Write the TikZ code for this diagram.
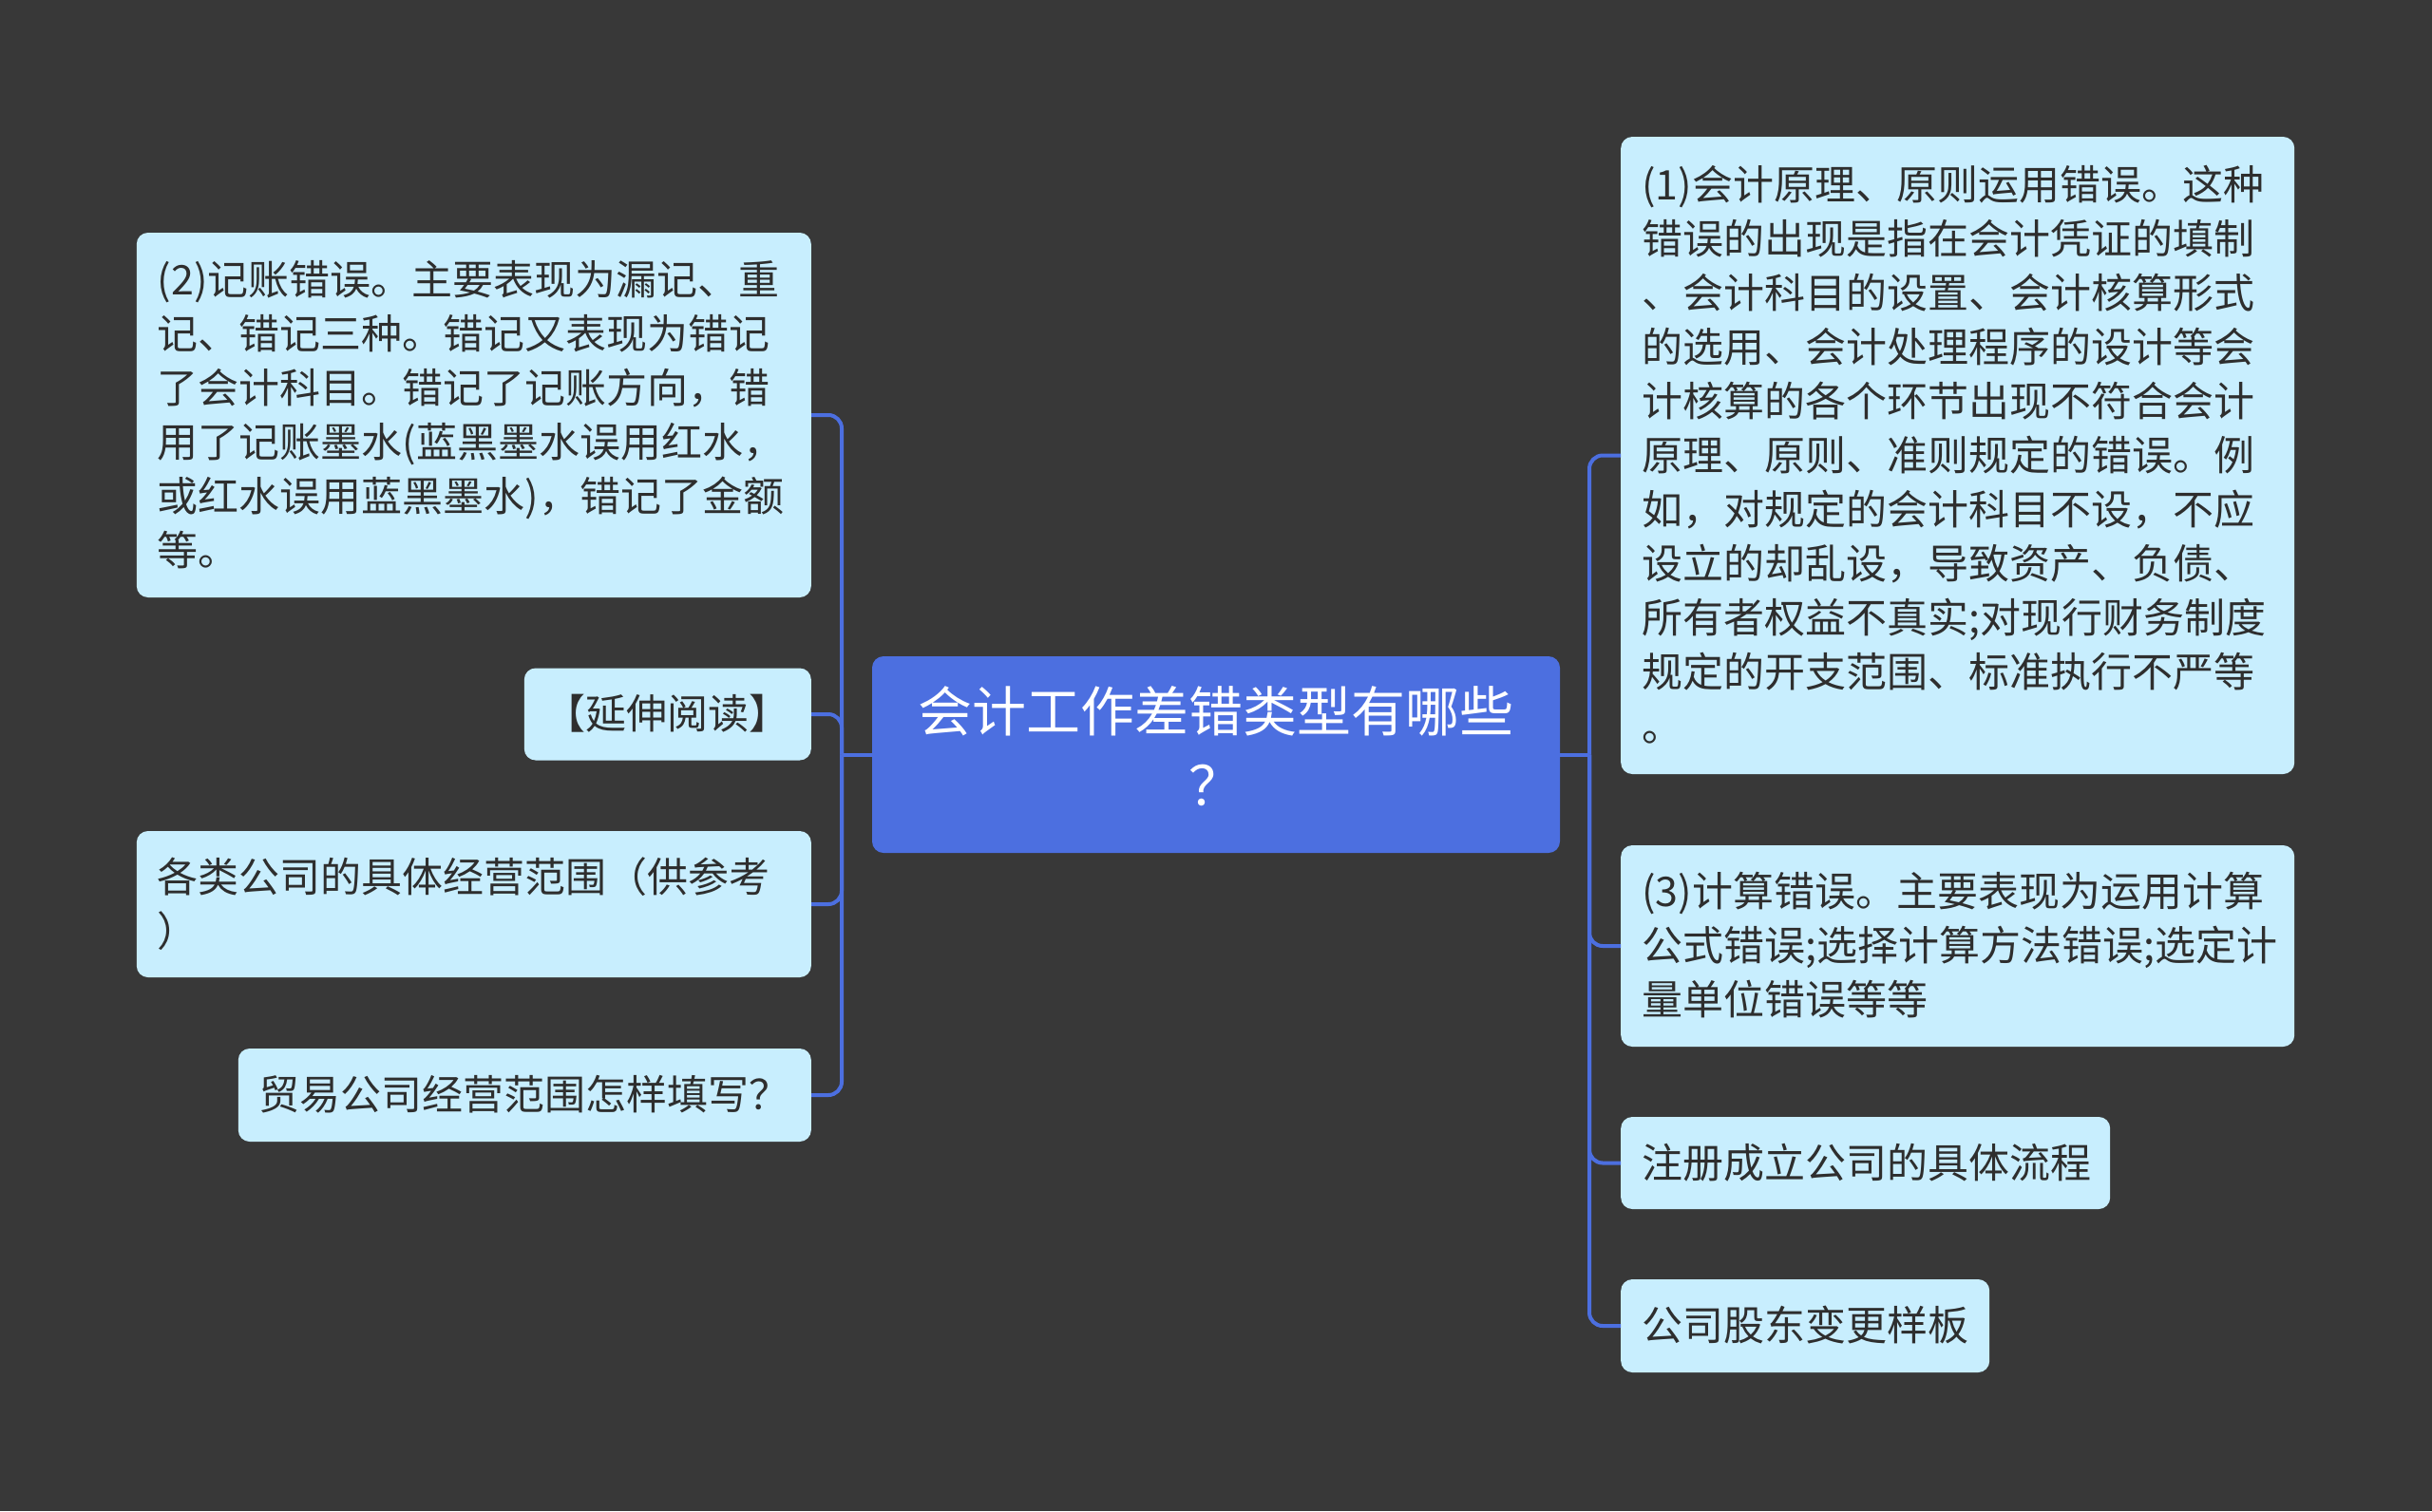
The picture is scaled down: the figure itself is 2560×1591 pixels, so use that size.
\documentclass[tikz,border=0pt]{standalone}
\usepackage{fontspec}
\setmainfont{Noto Sans CJK SC}
\definecolor{bgc}{HTML}{383838}
\definecolor{leafc}{HTML}{C8EEFE}
\definecolor{rootc}{HTML}{4C6FE0}
\definecolor{connc}{HTML}{4C6FE0}
\definecolor{txtc}{HTML}{2E2E2E}
\newcommand\mystrut{\rule[-0.22\baselineskip]{0pt}{\baselineskip}}
\tikzset{
  leaf/.style={fill=leafc, rounded corners=12pt, inner xsep=22pt, inner ysep=0pt,
    align=left, text=txtc, font=\fontsize{43}{57}\selectfont,
    execute at begin node=\mystrut, execute at end node=\mystrut},
  rootnode/.style={fill=rootc, rounded corners=12pt, inner xsep=20pt, inner ysep=0pt,
    align=center, text=white, font=\fontsize{57}{78}\selectfont,
    minimum width=724pt, minimum height=207pt,
    execute at begin node=\mystrut, execute at end node=\mystrut},
  conn/.style={draw=connc, line width=4pt, rounded corners=14pt}
}
\begin{document}
\begin{tikzpicture}[x=1pt,y=-1pt]
\fill[bgc] (0,0) rectangle (2560,1591);
\useasboundingbox (0,0) rectangle (2560,1591);

\node[rootnode] (c) at (1280,794.5) {会计工作差错类型有哪些\\？};

% left
\node[leaf, anchor=east, text width=666pt, minimum height=384pt] (l1) at (854,437)
 {(2)记账错误。主要表现为漏记、重\\记、错记三种。错记又表现为错记\\了会计科目。错记了记账方向，错\\用了记账墨水(蓝黑墨水误用红水，\\或红水误用蓝黑墨水)，错记了金额\\等。};
\node[leaf, anchor=east, text width=258pt, minimum height=97pt] (l2) at (854,752)
 {【延伸阅读】};
\node[leaf, anchor=east, text width=666pt, minimum height=154pt] (l3) at (854,952)
 {各类公司的具体经营范围（供参考\\）};
\node[leaf, anchor=east, text width=559pt, minimum height=98pt] (l4) at (854,1153)
 {贸易公司经营范围怎样填写？};

% right
\node[leaf, anchor=west, text width=665pt, minimum height=671pt] (r1) at (1706,479.5)
 {(1)会计原理、原则运用错误。这种\\错误的出现是指在会计凭证的填制\\、会计科目的设置、会计核算形式\\的选用、会计处理程序的设计等会\\计核算的各个环节出现不符合会计\\原理、原则、准则规定的错误。例\\如，对规定的会计科目不设，不应\\设立的却乱设，导致资产、负债、\\所有者权益不真实;对现行财务制度\\规定的开支范围、标准执行不严等\\。};
\node[leaf, anchor=west, text width=665pt, minimum height=212pt] (r2) at (1706,996)
 {(3)计算错误。主要表现为运用计算\\公式错误;选择计算方法错误;选定计\\量单位错误等等};
\node[leaf, anchor=west, text width=471pt, minimum height=97pt] (r3) at (1706,1224.5)
 {注册成立公司的具体流程};
\node[leaf, anchor=west, text width=344pt, minimum height=98pt] (r4) at (1706,1396)
 {公司股东变更样板};

% connectors
\coordinate (tl) at (886,794.5);
\coordinate (tr) at (1673,794.5);
\draw[conn] (c.west) -- (tl);
\draw[conn] (c.east) -- (tr);
\foreach \n in {l1,l2,l3,l4} { \draw[conn] (tl) |- (\n.east); }
\foreach \n in {r1,r2,r3,r4} { \draw[conn] (tr) |- (\n.west); }
\end{tikzpicture}
\end{document}
